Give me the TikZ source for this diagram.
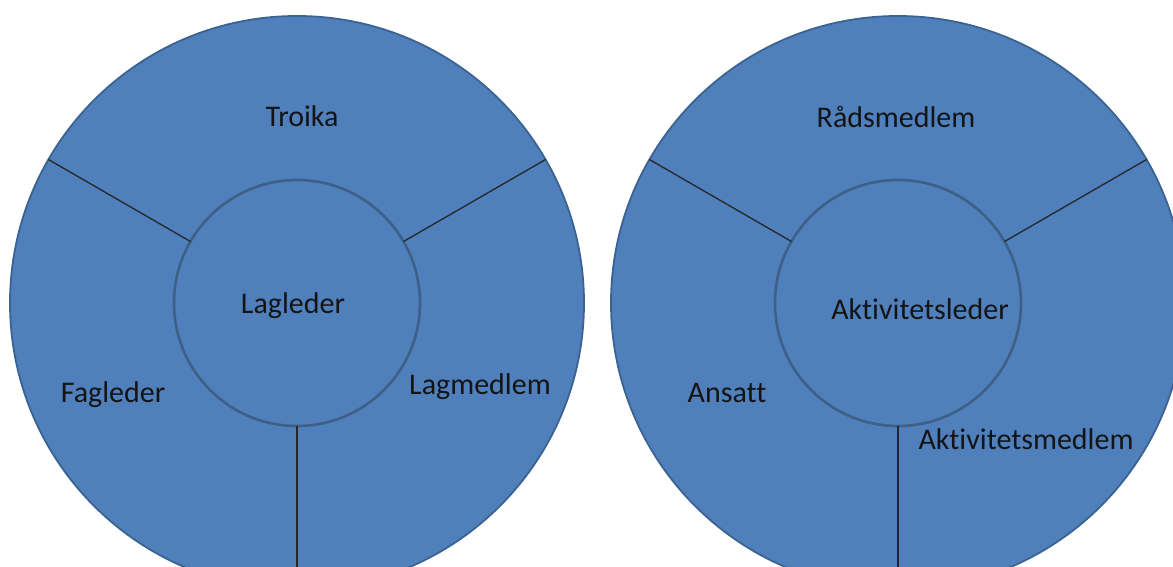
\documentclass[tikz,border=0pt]{standalone}
\usepackage{fontspec}
\setmainfont{Carlito}[Ligatures=NoCommon]
\begin{document}
\begin{tikzpicture}[x=1pt,y=-1pt,
  ring/.style={circle, outer sep=0pt, inner sep=0pt, fill=segblue,
               draw=rimblue, line width=1.8pt, minimum size=#1},
  hub/.style={circle, outer sep=0pt, inner sep=0pt, fill=segblue,
              draw=hubrim, line width=2.6pt, minimum size=#1},
  divider/.style={draw=black!85, line width=1.3pt},
  lbl/.style={anchor=base, inner sep=0pt, text=black!92,
              font=\fontsize{30}{36}\selectfont}]
  \definecolor{segblue}{HTML}{4F80BC}
  \definecolor{rimblue}{HTML}{3B6391}
  \definecolor{hubrim}{HTML}{3E5F86}
  \useasboundingbox (0,0) rectangle (1173,566);
  \clip (0,0) rectangle (1173,566);

  % left wheel
  \node[ring=574] (outerL) at (297,303) {};
  \node[hub=246]  (innerL) at (297,303) {};
  \draw[divider] (innerL.150) -- (outerL.150);
  \draw[divider] (innerL.30)  -- (outerL.30);
  \draw[divider] (innerL.270) -- (outerL.270);

  % right wheel
  \node[ring=574] (outerR) at (898,303) {};
  \node[hub=246]  (innerR) at (898,303) {};
  \draw[divider] (innerR.150) -- (outerR.150);
  \draw[divider] (innerR.30)  -- (outerR.30);
  \draw[divider] (innerR.270) -- (outerR.270);

  % labels, left wheel
  \node[lbl] (troika)    at (302,126) {Troika};
  \node[lbl] (lagleder)  at (293,313) {Lagleder};
  \node[lbl] (fagleder)  at (113,402) {Fagleder};
  \node[lbl] (lagmedlem) at (480,394) {Lagmedlem};

  % labels, right wheel
  \node[lbl] (raad)      at (896,127) {Rådsmedlem};
  \node[lbl] (aktleder)  at (920,319) {Aktivitetsleder};
  \node[lbl] (ansatt)    at (727,402) {Ansatt};
  \node[lbl] (aktmedlem) at (1026,449) {Aktivitetsmedlem};
\end{tikzpicture}
\end{document}
